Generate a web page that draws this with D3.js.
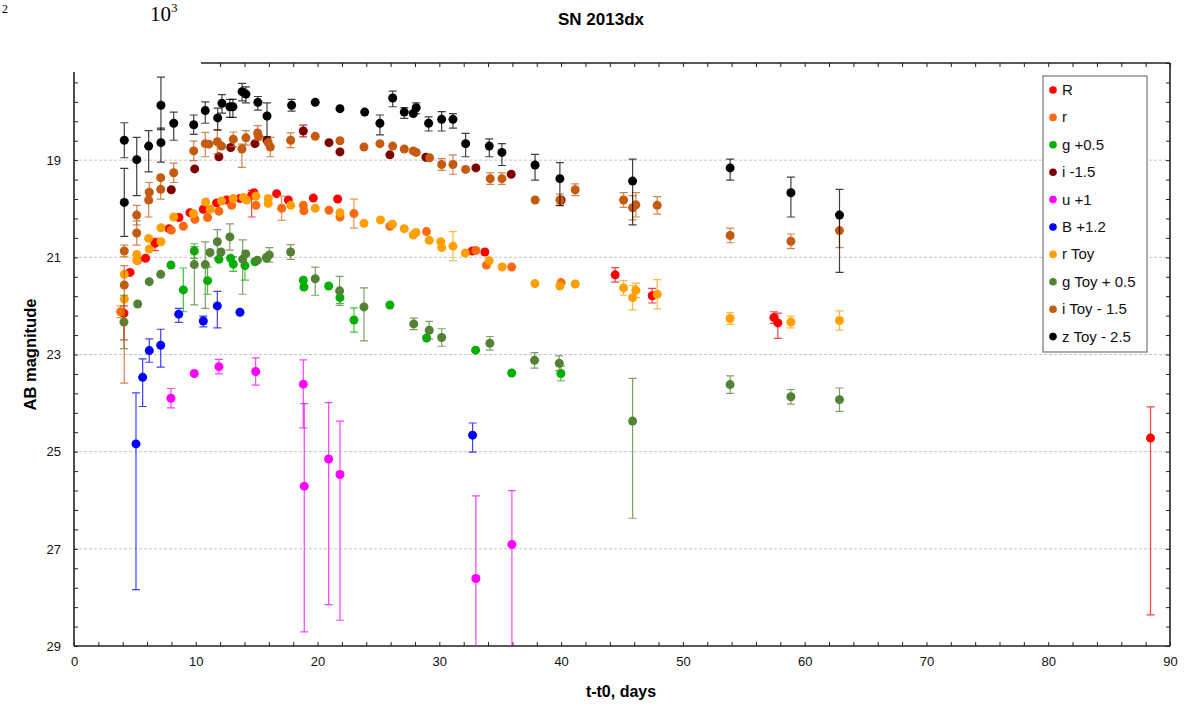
<!DOCTYPE html>
<html lang="en">
<head>
<meta charset="UTF-8">
<title>SN 2013dx</title>
<script src="https://cdn.jsdelivr.net/npm/d3@7"></script>
<style>
  body { margin: 0; background: #fff; }
  svg { font-family: "Liberation Sans", Arial, sans-serif; }
  .tick line { stroke: #222; stroke-width: 1; }
  .tick text { font-size: 13px; fill: #111; }
</style>
</head>
<body>
<script>
// each row: [t - t0 (days), AB magnitude, error up, error down]
var R = [
  [4.1, 22.15, 0.15, 0.55], [4.6, 21.31, 0.1, 0.1], [5.2, 21.06, 0.08, 0.08],
  [5.88, 21.02, 0.08, 0.08], [6.65, 20.71, 0.1, 0.15], [7.8, 20.41, 0.08, 0.08],
  [8.62, 20.18, 0.08, 0.08], [9.52, 20.08, 0.08, 0.08], [10.62, 20.01, 0.08, 0.08],
  [11.71, 19.88, 0.08, 0.08], [12.53, 19.82, 0.08, 0.08], [13.63, 19.79, 0.08, 0.08],
  [14.59, 19.72, 0.1, 0.45], [14.78, 19.67, 0.08, 0.08], [16.64, 19.69, 0.08, 0.08],
  [17.6, 19.82, 0.08, 0.08], [19.65, 19.78, 0.08, 0.08], [21.65, 19.8, 0.08, 0.08],
  [32.7, 20.87, 0.06, 0.06], [33.74, 20.89, 0.06, 0.06], [44.44, 21.36, 0.15, 0.15],
  [47.48, 21.79, 0.15, 0.15], [57.47, 22.24, 0.12, 0.12], [57.8, 22.35, 0.2, 0.32],
  [88.4, 24.72, 0.64, 3.64]
];
var rSdss = [
  [3.83, 22.12, 0.12, 0.12], [7.99, 20.44, 0.08, 0.08], [8.98, 20.36, 0.1, 0.1],
  [9.93, 20.22, 0.08, 0.08], [10.97, 20.18, 0.1, 0.1], [11.9, 20.05, 0.08, 0.08],
  [12.95, 19.93, 0.08, 0.08], [14.94, 19.93, 0.08, 0.08], [17.05, 19.99, 0.25, 0.25],
  [18.83, 19.93, 0.06, 0.06], [18.88, 20.04, 0.06, 0.06], [20.94, 20.03, 0.06, 0.06],
  [21.84, 20.17, 0.06, 0.06], [22.99, 20.1, 0.3, 0.3], [25.94, 20.36, 0.06, 0.06],
  [28.95, 20.47, 0.06, 0.06], [33.0, 20.86, 0.06, 0.06], [33.87, 21.16, 0.08, 0.08],
  [35.94, 21.2, 0.06, 0.06], [40.0, 21.52, 0.08, 0.08]
];
var gSdss = [
  [7.96, 21.16, 0.08, 0.08], [8.98, 21.67, 0.45, 0.45], [9.88, 20.87, 0.15, 0.15],
  [10.97, 21.48, 0.28, 0.28], [11.9, 21.04, 0.1, 0.1], [12.86, 21.02, 0.1, 0.1],
  [13.08, 21.14, 0.15, 0.15], [14.04, 21.17, 0.3, 0.3], [14.86, 21.09, 0.1, 0.1],
  [15.82, 21.02, 0.1, 0.1], [18.83, 21.47, 0.08, 0.08], [18.88, 21.61, 0.08, 0.08],
  [20.91, 21.59, 0.08, 0.08], [21.84, 21.83, 0.12, 0.12], [22.99, 22.29, 0.25, 0.25],
  [25.94, 21.98, 0.06, 0.06], [28.95, 22.66, 0.08, 0.08], [32.98, 22.91, 0.06, 0.06],
  [35.94, 23.38, 0.08, 0.08], [39.98, 23.39, 0.15, 0.15]
];
var iSdss = [
  [7.99, 19.61, 0.06, 0.06], [9.91, 19.18, 0.06, 0.06], [11.9, 18.93, 0.06, 0.06],
  [12.87, 18.74, 0.08, 0.08], [14.86, 18.66, 0.1, 0.1], [15.85, 18.59, 0.1, 0.1],
  [18.83, 18.4, 0.12, 0.12], [20.94, 18.64, 0.06, 0.06], [21.84, 18.83, 0.1, 0.1],
  [25.94, 18.89, 0.06, 0.06], [28.9, 18.94, 0.06, 0.06], [33.0, 19.16, 0.06, 0.06],
  [35.9, 19.29, 0.06, 0.06], [40.0, 19.82, 0.1, 0.1]
];
var uSdss = [
  [7.96, 23.9, 0.2, 0.2], [9.88, 23.39, 0.1, 0.1], [11.9, 23.25, 0.15, 0.15],
  [14.92, 23.35, 0.28, 0.28], [18.83, 23.61, 0.5, 0.9], [18.91, 25.71, 1.7, 3.0],
  [20.91, 25.15, 1.16, 3.0], [21.84, 25.47, 1.1, 3.0], [33.0, 27.61, 1.7, 3.0],
  [35.96, 26.91, 1.11, 3.0]
];
var B = [
  [5.09, 24.84, 1.05, 3.0], [5.64, 23.47, 0.38, 0.6], [6.18, 22.92, 0.24, 0.24],
  [7.12, 22.81, 0.33, 0.45], [8.6, 22.17, 0.12, 0.17], [10.62, 22.31, 0.1, 0.12],
  [11.77, 22.0, 0.3, 0.45], [13.63, 22.13, 0.08, 0.08], [32.73, 24.66, 0.25, 0.35]
];
var rToy = [
  [4.13, 21.35, 0.1, 0.1], [4.13, 21.86, 0.1, 0.1], [5.15, 20.94, 0.1, 0.1],
  [5.15, 21.06, 0.1, 0.1], [6.13, 20.61, 0.08, 0.08], [6.18, 20.83, 0.1, 0.1],
  [7.14, 20.39, 0.08, 0.08], [7.14, 20.68, 0.1, 0.1], [8.19, 20.17, 0.08, 0.08],
  [9.8, 20.1, 0.08, 0.08], [10.81, 19.86, 0.08, 0.08], [11.19, 20.01, 0.08, 0.08],
  [12.12, 19.84, 0.08, 0.08], [13.07, 19.79, 0.08, 0.08], [13.9, 19.77, 0.1, 0.1],
  [14.18, 19.82, 0.1, 0.1], [14.94, 19.74, 0.1, 0.1], [15.95, 19.79, 0.1, 0.1],
  [15.95, 19.89, 0.1, 0.1], [17.8, 19.93, 0.08, 0.08], [19.81, 19.99, 0.06, 0.06],
  [21.84, 20.08, 0.06, 0.06], [23.81, 20.3, 0.06, 0.06], [25.17, 20.23, 0.06, 0.06],
  [26.15, 20.32, 0.06, 0.06], [27.12, 20.41, 0.06, 0.06], [27.86, 20.54, 0.06, 0.06],
  [28.08, 20.49, 0.06, 0.06], [29.17, 20.65, 0.06, 0.06], [30.12, 20.68, 0.06, 0.06],
  [30.19, 20.8, 0.08, 0.08], [31.12, 20.77, 0.3, 0.3], [32.13, 20.91, 0.06, 0.06],
  [34.1, 21.07, 0.08, 0.08], [35.16, 21.2, 0.06, 0.06], [37.85, 21.54, 0.06, 0.06],
  [39.9, 21.59, 0.08, 0.08], [41.16, 21.55, 0.1, 0.1], [45.13, 21.63, 0.15, 0.15],
  [45.87, 21.83, 0.25, 0.25], [46.14, 21.68, 0.15, 0.15], [47.89, 21.76, 0.3, 0.3],
  [53.88, 22.26, 0.12, 0.12], [58.87, 22.33, 0.12, 0.12], [62.86, 22.3, 0.2, 0.2]
];
var gToy = [
  [4.1, 22.33, 0.55, 0.55], [5.23, 21.96, 0.1, 0.1], [6.18, 21.5, 0.08, 0.08],
  [7.12, 21.35, 0.08, 0.08], [9.88, 21.15, 0.37, 0.83], [10.78, 21.15, 0.47, 0.9],
  [11.17, 20.9, 0.1, 0.1], [11.77, 20.68, 0.25, 0.33], [12.07, 20.89, 0.1, 0.1],
  [12.8, 20.58, 0.27, 0.27], [13.85, 21.04, 0.4, 0.72], [14.1, 20.93, 0.1, 0.1],
  [15.05, 21.06, 0.08, 0.08], [15.8, 21.0, 0.1, 0.1], [16.04, 20.95, 0.15, 0.15],
  [17.79, 20.89, 0.15, 0.15], [19.81, 21.44, 0.24, 0.34], [21.81, 21.69, 0.3, 0.3],
  [23.81, 22.02, 0.39, 0.7], [27.9, 22.37, 0.12, 0.12], [29.17, 22.5, 0.18, 0.18],
  [30.19, 22.65, 0.18, 0.18], [34.15, 22.77, 0.14, 0.14], [37.82, 23.12, 0.16, 0.16],
  [39.85, 23.18, 0.15, 0.15], [45.87, 24.37, 0.88, 2.0], [53.88, 23.62, 0.18, 0.18],
  [58.87, 23.87, 0.15, 0.15], [62.86, 23.93, 0.24, 0.24]
];
var iToy = [
  [4.13, 20.87, 0.12, 0.12], [4.13, 21.57, 0.4, 2.02], [5.15, 20.13, 0.2, 0.2],
  [5.15, 20.5, 0.25, 0.25], [6.18, 19.66, 0.2, 0.2], [6.13, 19.82, 0.2, 0.35],
  [7.12, 19.36, 0.1, 0.1], [7.12, 19.6, 0.2, 0.2], [8.19, 19.26, 0.2, 0.2],
  [9.83, 18.81, 0.2, 0.2], [10.78, 18.66, 0.23, 0.27], [11.08, 18.67, 0.1, 0.1],
  [11.77, 18.62, 0.25, 0.25], [12.12, 18.71, 0.1, 0.1], [13.08, 18.57, 0.15, 0.15],
  [13.79, 18.77, 0.1, 0.38], [14.12, 18.54, 0.15, 0.15], [15.08, 18.44, 0.15, 0.15],
  [15.16, 18.51, 0.1, 0.1], [15.95, 18.64, 0.1, 0.1], [16.12, 18.73, 0.2, 0.2],
  [17.79, 18.59, 0.15, 0.15], [19.81, 18.51, 0.1, 0.1], [21.84, 18.6, 0.1, 0.1],
  [23.81, 18.73, 0.1, 0.1], [25.12, 18.66, 0.1, 0.1], [26.17, 18.71, 0.1, 0.1],
  [27.12, 18.77, 0.1, 0.1], [27.86, 18.81, 0.08, 0.08], [28.1, 18.84, 0.08, 0.08],
  [29.2, 18.95, 0.1, 0.1], [30.19, 19.09, 0.12, 0.12], [31.12, 19.09, 0.2, 0.2],
  [32.16, 19.19, 0.1, 0.1], [34.18, 19.38, 0.12, 0.12], [35.14, 19.38, 0.12, 0.12],
  [37.87, 19.82, 0.1, 0.1], [39.9, 19.82, 0.12, 0.12], [41.16, 19.61, 0.12, 0.12],
  [45.13, 19.82, 0.15, 0.15], [45.87, 19.98, 0.25, 0.25], [46.14, 19.92, 0.25, 0.25],
  [47.89, 19.93, 0.18, 0.18], [53.88, 20.55, 0.15, 0.15], [58.87, 20.67, 0.15, 0.15],
  [62.86, 20.45, 0.35, 0.35]
];
var zToy = [
  [4.13, 18.59, 0.36, 0.36], [4.13, 19.87, 0.7, 0.7], [5.15, 18.99, 0.46, 0.74],
  [6.13, 18.71, 0.32, 0.53], [7.14, 17.87, 0.58, 0.5], [7.14, 18.64, 0.3, 0.4],
  [8.19, 18.24, 0.23, 0.35], [9.83, 18.27, 0.2, 0.2], [10.78, 17.98, 0.18, 0.26],
  [11.8, 18.13, 0.2, 0.25], [12.15, 17.83, 0.18, 0.2], [12.8, 17.9, 0.15, 0.22],
  [13.05, 17.9, 0.15, 0.22], [13.8, 17.59, 0.17, 0.19], [14.12, 17.64, 0.15, 0.18],
  [15.1, 17.81, 0.12, 0.16], [15.85, 18.09, 0.27, 0.43], [17.87, 17.87, 0.12, 0.12],
  [19.81, 17.81, 0.08, 0.08], [21.84, 17.94, 0.1, 0.1], [23.87, 18.01, 0.08, 0.08],
  [25.12, 18.24, 0.17, 0.24], [26.17, 17.72, 0.14, 0.18], [27.12, 18.01, 0.09, 0.13],
  [27.86, 18.04, 0.1, 0.1], [28.1, 17.92, 0.1, 0.12], [29.12, 18.24, 0.13, 0.16],
  [30.19, 18.16, 0.16, 0.24], [31.12, 18.16, 0.12, 0.18], [32.16, 18.66, 0.21, 0.27],
  [34.1, 18.71, 0.15, 0.22], [35.14, 18.84, 0.18, 0.27], [37.86, 19.1, 0.22, 0.31],
  [39.9, 19.38, 0.33, 0.55], [45.87, 19.43, 0.45, 0.9], [53.88, 19.16, 0.18, 0.25],
  [58.87, 19.67, 0.32, 0.5], [62.86, 20.13, 0.53, 1.18]
];

var seriesNames = ["R", "r", "g +0.5", "i -1.5", "u +1", "B +1.2", "r Toy", "g Toy + 0.5", "i Toy - 1.5", "z Toy - 2.5"];
var seriesData = [R, rSdss, gSdss, iSdss, uSdss, B, rToy, gToy, iToy, zToy];
var seriesColors = ["#ff0000", "#ff6a10", "#00b000", "#7f0000", "#ff00ff", "#0000ff", "#ffa000", "#548235", "#c55a11", "#000000"];

var xTicks = d3.range(0, 91, 2);
var yTicks = d3.range(0, 31).map(function(i) { return +(17 + i * 0.4).toFixed(1); });
var yLabelled = [19, 21, 23, 25, 27, 29];

var W = 1186, H = 704;
var margin = {top: 63, right: 16, bottom: 58, left: 74};

var x = d3.scaleLinear().domain([0, 90]).range([margin.left, W - margin.right]);
var y = d3.scaleLinear().domain([17, 29]).range([margin.top, H - margin.bottom]);

var svg = d3.select("body").append("svg")
  .attr("width", W)
  .attr("height", H);

svg.append("defs").append("clipPath").attr("id", "plot")
  .append("rect")
  .attr("x", x(0)).attr("y", y(17))
  .attr("width", x(90) - x(0)).attr("height", y(29) - y(17));

// dashed grid
svg.append("g").selectAll("line")
  .data(yLabelled.filter(function(v) { return v < 29; }))
  .enter().append("line")
  .attr("x1", x(0)).attr("x2", x(90))
  .attr("y1", function(d) { return y(d); })
  .attr("y2", function(d) { return y(d); })
  .attr("stroke", "#c4c4c4")
  .attr("stroke-width", 1)
  .attr("stroke-dasharray", "3,2");

// axes, ticks inside
var xb = svg.append("g")
  .attr("transform", "translate(0," + y(29) + ")")
  .call(d3.axisBottom(x).tickValues(xTicks).tickSize(-4).tickPadding(11)
    .tickFormat(function(d) { return d % 10 === 0 ? d : ""; }));
xb.select(".domain").remove();

var xt = svg.append("g")
  .attr("transform", "translate(0," + y(17) + ")")
  .call(d3.axisTop(x).tickValues(xTicks).tickSize(-4).tickFormat(""));
xt.select(".domain").remove();

var yl = svg.append("g")
  .attr("transform", "translate(" + x(0) + ",0)")
  .call(d3.axisLeft(y).tickValues(yTicks).tickSize(-4).tickPadding(13)
    .tickFormat(function(d) { return yLabelled.indexOf(d) >= 0 ? d : ""; }));
yl.select(".domain").remove();

var yr = svg.append("g")
  .attr("transform", "translate(" + x(90) + ",0)")
  .call(d3.axisRight(y).tickValues(yTicks).tickSize(-4).tickFormat(""));
yr.select(".domain").remove();

// frame
var frame = svg.append("g").attr("stroke", "#222").attr("stroke-width", 1.6);
frame.append("line").attr("x1", x(0)).attr("x2", x(90)).attr("y1", y(29)).attr("y2", y(29));
frame.append("line").attr("x1", x(0)).attr("x2", x(0)).attr("y1", y(17)).attr("y2", y(29));
frame.append("line").attr("x1", x(90)).attr("x2", x(90)).attr("y1", y(17)).attr("y2", y(29));
frame.append("line").attr("x1", x(0)).attr("x2", x(90)).attr("y1", y(17)).attr("y2", y(17));

// data
var plot = svg.append("g").attr("clip-path", "url(#plot)");
var cap = 4;

seriesData.forEach(function(data, k) {
  var col = seriesColors[k];
  var g = plot.append("g");
  var bars = g.append("g")
    .attr("stroke", col)
    .attr("stroke-width", 1.2)
    .attr("stroke-opacity", 0.75)
    .attr("fill", "none");
  bars.selectAll("path")
    .data(data.filter(function(d) { return d[2] + d[3] > 0.2; }))
    .enter().append("path")
    .attr("d", function(d) {
      var cx = x(d[0]), y0 = y(d[1] - d[2]), y1 = y(d[1] + d[3]);
      return "M" + cx + "," + y0 + "V" + y1 +
        "M" + (cx - cap) + "," + y0 + "H" + (cx + cap) +
        "M" + (cx - cap) + "," + y1 + "H" + (cx + cap);
    });
  g.selectAll("circle")
    .data(data)
    .enter().append("circle")
    .attr("cx", function(d) { return x(d[0]); })
    .attr("cy", function(d) { return y(d[1]); })
    .attr("r", 4.5)
    .attr("fill", col);
});

// the corner of the frame is cut off in the original
svg.append("rect")
  .attr("x", 0).attr("y", 0)
  .attr("width", 201).attr("height", 72)
  .attr("fill", "#fff");

svg.append("text")
  .attr("x", 150).attr("y", 21)
  .attr("font-family", "Liberation Serif, serif")
  .attr("font-size", 21)
  .text("10")
  .append("tspan")
  .attr("dy", -9).attr("font-size", 13)
  .text("3");

svg.append("text")
  .attr("x", 2).attr("y", 13)
  .attr("font-family", "Liberation Serif, serif")
  .attr("font-size", 12)
  .text("2");

// titles
svg.append("text")
  .attr("x", 601).attr("y", 25)
  .attr("text-anchor", "middle")
  .attr("font-size", 17)
  .attr("font-weight", "bold")
  .text("SN 2013dx");

svg.append("text")
  .attr("x", 621).attr("y", 697)
  .attr("text-anchor", "middle")
  .attr("font-size", 16)
  .attr("font-weight", "bold")
  .text("t-t0, days");

svg.append("text")
  .attr("transform", "translate(36," + ((y(17) + y(29)) / 2) + ") rotate(-90)")
  .attr("text-anchor", "middle")
  .attr("font-size", 16.5)
  .attr("font-weight", "bold")
  .text("AB magnitude");

// legend
var lg = svg.append("g").attr("transform", "translate(1043,76)");
lg.append("rect")
  .attr("width", 104).attr("height", 276)
  .attr("fill", "#fff")
  .attr("stroke", "#777")
  .attr("stroke-width", 1.2);

var item = lg.selectAll("g.item")
  .data(seriesNames)
  .enter().append("g")
  .attr("class", "item")
  .attr("transform", function(d, i) { return "translate(0," + (14 + i * 27.4) + ")"; });
item.append("circle")
  .attr("cx", 10).attr("r", 3.8)
  .attr("fill", function(d, i) { return seriesColors[i]; });
item.append("text")
  .attr("x", 19).attr("y", 5)
  .attr("font-size", 15)
  .attr("fill", "#111")
  .text(function(d) { return d; });
</script>
</body>
</html>
